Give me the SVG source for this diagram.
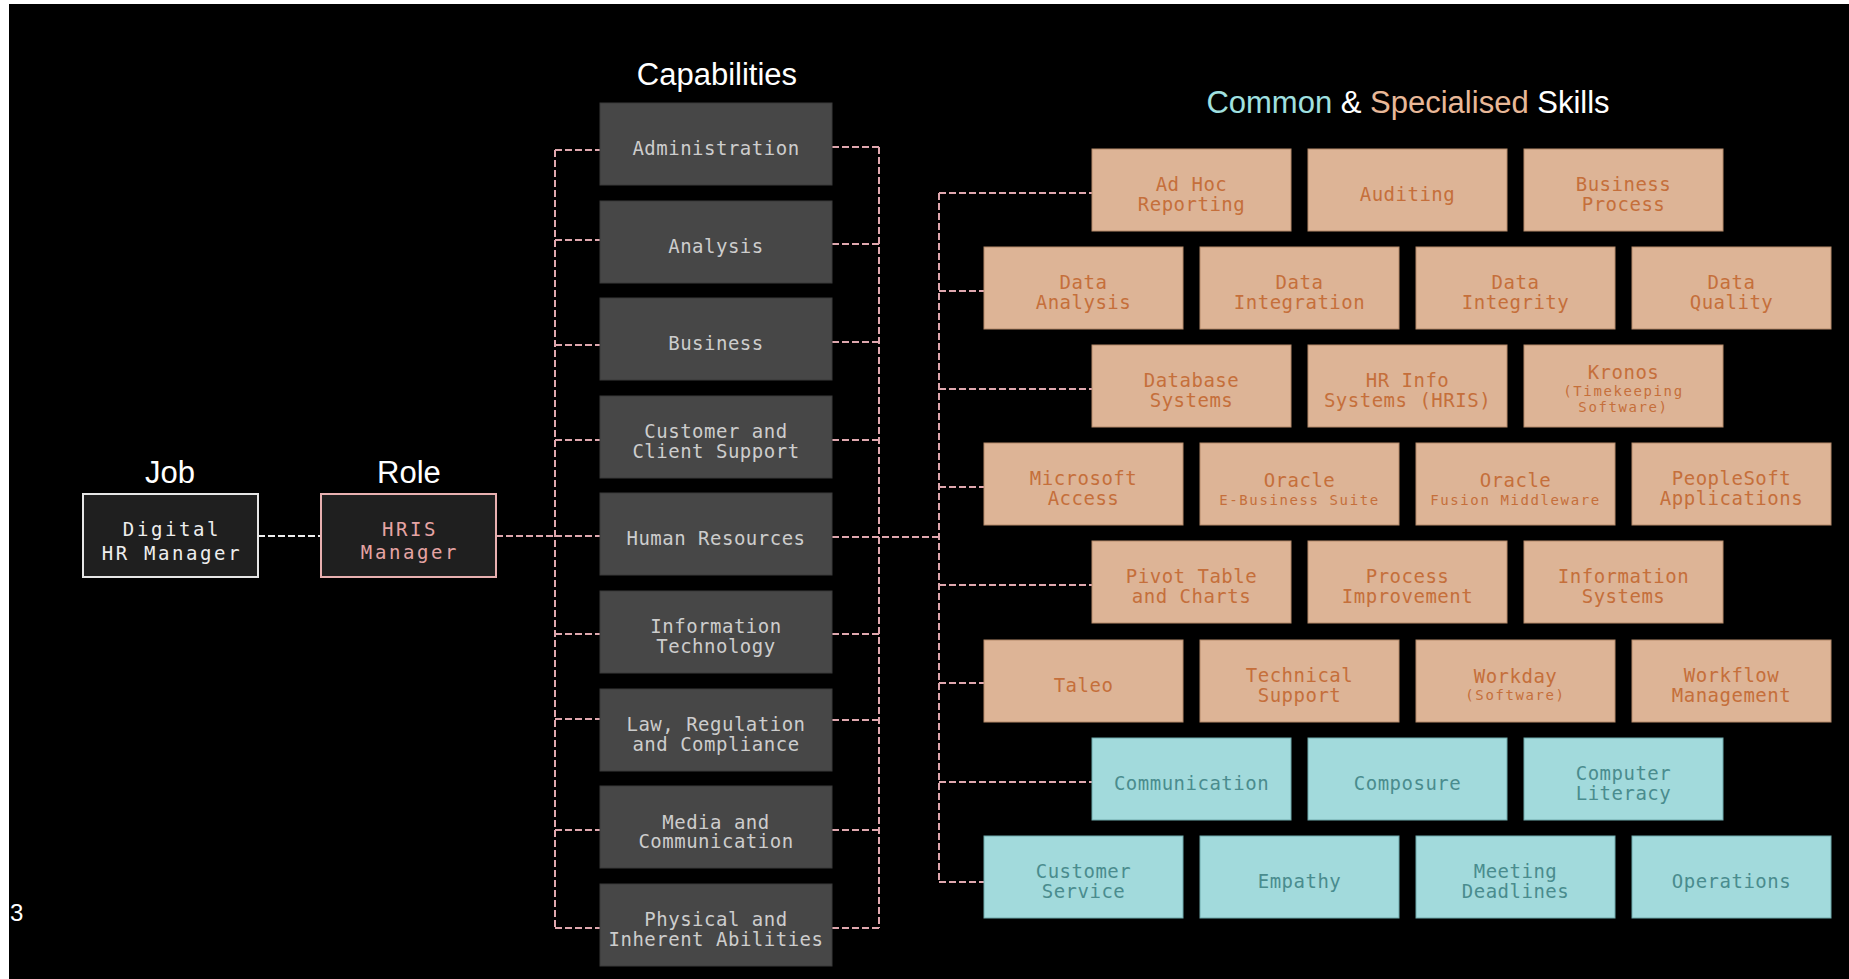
<svg xmlns="http://www.w3.org/2000/svg" width="1849" height="979" viewBox="0 0 1849 979">
<style>
.h{font-family:"Liberation Sans",Arial,sans-serif;font-size:31px;fill:#ffffff;text-anchor:middle}
.t{font-family:"DejaVu Sans Mono",monospace;font-size:19px;letter-spacing:0.5px;text-anchor:middle}
.s{font-size:14px;letter-spacing:1.6px}
.cap rect{fill:#474747;stroke:#3a3a3a;stroke-width:1}
.cap text{fill:#cdcdcd}
.sp rect{fill:#ddb496;stroke:#b58a6a;stroke-width:1}
.sp text{fill:#c56f3b}
.cm rect{fill:#a2dadc;stroke:#6fa9ab;stroke-width:1}
.cm text{fill:#4a8c8e}
.d{fill:none;stroke:#dfa7ae;stroke-width:2;stroke-dasharray:7 3}
</style>
<rect x="0" y="0" width="1849" height="979" fill="#ffffff"/>
<rect x="9" y="4" width="1840" height="975" fill="#000000"/>
<text x="10" y="921" font-family="Liberation Sans,Arial,sans-serif" font-size="24" fill="#ffffff">3</text>

<text class="h" x="170" y="483">Job</text>
<text class="h" x="409" y="483">Role</text>
<text class="h" x="717" y="85">Capabilities</text>
<text class="h" x="1408" y="113"><tspan fill="#a0e0e0">Common</tspan> &amp; <tspan fill="#e8b898">Specialised</tspan> Skills</text>

<g id="connectors">
<path d="M258 536H321" fill="none" stroke="#eeeeee" stroke-width="2" stroke-dasharray="7 3"/>
<path class="d" d="M496 536H555"/>
<path class="d" d="M555 150V928"/>
<path class="d" d="M555 150H600M555 240H600M555 345H600M555 440H600M555 536H600M555 634H600M555 719H600M555 830H600M555 928H600"/>
<path class="d" d="M879 147V928"/>
<path class="d" d="M832 147H879M832 244H879M832 342H879M832 440H879M832 634H879M832 720H879M832 830H879M832 928H879"/>
<path class="d" d="M832 537H939"/>
<path class="d" d="M939 193V882"/>
<path class="d" d="M939 193H1092M939 291H984M939 389H1092M939 487H984M939 585H1092M939 683H984M939 782H1092M939 882H984"/>
</g>

<g id="job">
<rect x="83" y="494" width="175" height="83" fill="#1f1f1f" stroke="#e6e6e6" stroke-width="2"/>
<text class="t" style="letter-spacing:2.6px" fill="#eeeeee"><tspan x="172" y="536">Digital</tspan><tspan x="172" y="560">HR Manager</tspan></text>
</g>
<g id="role">
<rect x="321" y="494" width="175" height="83" fill="#1f1f1f" stroke="#e8b0b0" stroke-width="2"/>
<text class="t" style="letter-spacing:2.6px" fill="#e6a4a4"><tspan x="410" y="536">HRIS</tspan><tspan x="410" y="559">Manager</tspan></text>
</g>

<g id="cap-administration" class="cap"><rect x="600" y="103" width="232" height="82"/><text class="t" x="716" y="155">Administration</text></g>
<g id="cap-analysis" class="cap"><rect x="600" y="201" width="232" height="82"/><text class="t" x="716" y="253">Analysis</text></g>
<g id="cap-business" class="cap"><rect x="600" y="298" width="232" height="82"/><text class="t" x="716" y="350">Business</text></g>
<g id="cap-customer" class="cap"><rect x="600" y="396" width="232" height="82"/><text class="t"><tspan x="716" y="438">Customer and</tspan><tspan x="716" y="458">Client Support</tspan></text></g>
<g id="cap-hr" class="cap"><rect x="600" y="493" width="232" height="82"/><text class="t" x="716" y="545">Human Resources</text></g>
<g id="cap-it" class="cap"><rect x="600" y="591" width="232" height="82"/><text class="t"><tspan x="716" y="633">Information</tspan><tspan x="716" y="653">Technology</tspan></text></g>
<g id="cap-law" class="cap"><rect x="600" y="689" width="232" height="82"/><text class="t"><tspan x="716" y="731">Law, Regulation</tspan><tspan x="716" y="751">and Compliance</tspan></text></g>
<g id="cap-media" class="cap"><rect x="600" y="786" width="232" height="82"/><text class="t"><tspan x="716" y="829">Media and</tspan><tspan x="716" y="848">Communication</tspan></text></g>
<g id="cap-physical" class="cap"><rect x="600" y="884" width="232" height="82"/><text class="t"><tspan x="716" y="926">Physical and</tspan><tspan x="716" y="946">Inherent Abilities</tspan></text></g>

<g id="sk-adhoc" class="sp"><rect x="1092" y="149" width="199" height="82"/><text class="t"><tspan x="1191.5" y="191">Ad Hoc</tspan><tspan x="1191.5" y="211">Reporting</tspan></text></g>
<g id="sk-auditing" class="sp"><rect x="1308" y="149" width="199" height="82"/><text class="t" x="1407.5" y="201">Auditing</text></g>
<g id="sk-busproc" class="sp"><rect x="1524" y="149" width="199" height="82"/><text class="t"><tspan x="1623.5" y="191">Business</tspan><tspan x="1623.5" y="211">Process</tspan></text></g>

<g id="sk-dataanalysis" class="sp"><rect x="984" y="247" width="199" height="82"/><text class="t"><tspan x="1083.5" y="289">Data</tspan><tspan x="1083.5" y="309">Analysis</tspan></text></g>
<g id="sk-dataint" class="sp"><rect x="1200" y="247" width="199" height="82"/><text class="t"><tspan x="1299.5" y="289">Data</tspan><tspan x="1299.5" y="309">Integration</tspan></text></g>
<g id="sk-dataintegrity" class="sp"><rect x="1416" y="247" width="199" height="82"/><text class="t"><tspan x="1515.5" y="289">Data</tspan><tspan x="1515.5" y="309">Integrity</tspan></text></g>
<g id="sk-dataquality" class="sp"><rect x="1632" y="247" width="199" height="82"/><text class="t"><tspan x="1731.5" y="289">Data</tspan><tspan x="1731.5" y="309">Quality</tspan></text></g>

<g id="sk-database" class="sp"><rect x="1092" y="345" width="199" height="82"/><text class="t"><tspan x="1191.5" y="387">Database</tspan><tspan x="1191.5" y="407">Systems</tspan></text></g>
<g id="sk-hris" class="sp"><rect x="1308" y="345" width="199" height="82"/><text class="t"><tspan x="1407.5" y="387">HR Info</tspan><tspan x="1407.5" y="407">Systems (HRIS)</tspan></text></g>
<g id="sk-kronos" class="sp"><rect x="1524" y="345" width="199" height="82"/><text class="t"><tspan x="1623.5" y="379">Kronos</tspan><tspan class="s" x="1623.5" y="396">(Timekeeping</tspan><tspan class="s" x="1623.5" y="412">Software)</tspan></text></g>

<g id="sk-msaccess" class="sp"><rect x="984" y="443" width="199" height="82"/><text class="t"><tspan x="1083.5" y="485">Microsoft</tspan><tspan x="1083.5" y="505">Access</tspan></text></g>
<g id="sk-oracleebs" class="sp"><rect x="1200" y="443" width="199" height="82"/><text class="t"><tspan x="1299.5" y="487">Oracle</tspan><tspan class="s" x="1299.5" y="505">E-Business Suite</tspan></text></g>
<g id="sk-oraclefm" class="sp"><rect x="1416" y="443" width="199" height="82"/><text class="t"><tspan x="1515.5" y="487">Oracle</tspan><tspan class="s" x="1515.5" y="505">Fusion Middleware</tspan></text></g>
<g id="sk-peoplesoft" class="sp"><rect x="1632" y="443" width="199" height="82"/><text class="t"><tspan x="1731.5" y="485">PeopleSoft</tspan><tspan x="1731.5" y="505">Applications</tspan></text></g>

<g id="sk-pivot" class="sp"><rect x="1092" y="541" width="199" height="82"/><text class="t"><tspan x="1191.5" y="583">Pivot Table</tspan><tspan x="1191.5" y="603">and Charts</tspan></text></g>
<g id="sk-procimp" class="sp"><rect x="1308" y="541" width="199" height="82"/><text class="t"><tspan x="1407.5" y="583">Process</tspan><tspan x="1407.5" y="603">Improvement</tspan></text></g>
<g id="sk-infosys" class="sp"><rect x="1524" y="541" width="199" height="82"/><text class="t"><tspan x="1623.5" y="583">Information</tspan><tspan x="1623.5" y="603">Systems</tspan></text></g>

<g id="sk-taleo" class="sp"><rect x="984" y="640" width="199" height="82"/><text class="t" x="1083.5" y="692">Taleo</text></g>
<g id="sk-techsupport" class="sp"><rect x="1200" y="640" width="199" height="82"/><text class="t"><tspan x="1299.5" y="682">Technical</tspan><tspan x="1299.5" y="702">Support</tspan></text></g>
<g id="sk-workday" class="sp"><rect x="1416" y="640" width="199" height="82"/><text class="t"><tspan x="1515.5" y="683">Workday</tspan><tspan class="s" x="1515.5" y="700">(Software)</tspan></text></g>
<g id="sk-workflow" class="sp"><rect x="1632" y="640" width="199" height="82"/><text class="t"><tspan x="1731.5" y="682">Workflow</tspan><tspan x="1731.5" y="702">Management</tspan></text></g>

<g id="sk-communication" class="cm"><rect x="1092" y="738" width="199" height="82"/><text class="t" x="1191.5" y="790">Communication</text></g>
<g id="sk-composure" class="cm"><rect x="1308" y="738" width="199" height="82"/><text class="t" x="1407.5" y="790">Composure</text></g>
<g id="sk-complit" class="cm"><rect x="1524" y="738" width="199" height="82"/><text class="t"><tspan x="1623.5" y="780">Computer</tspan><tspan x="1623.5" y="800">Literacy</tspan></text></g>

<g id="sk-custservice" class="cm"><rect x="984" y="836" width="199" height="82"/><text class="t"><tspan x="1083.5" y="878">Customer</tspan><tspan x="1083.5" y="898">Service</tspan></text></g>
<g id="sk-empathy" class="cm"><rect x="1200" y="836" width="199" height="82"/><text class="t" x="1299.5" y="888">Empathy</text></g>
<g id="sk-meeting" class="cm"><rect x="1416" y="836" width="199" height="82"/><text class="t"><tspan x="1515.5" y="878">Meeting</tspan><tspan x="1515.5" y="898">Deadlines</tspan></text></g>
<g id="sk-operations" class="cm"><rect x="1632" y="836" width="199" height="82"/><text class="t" x="1731.5" y="888">Operations</text></g>
</svg>
